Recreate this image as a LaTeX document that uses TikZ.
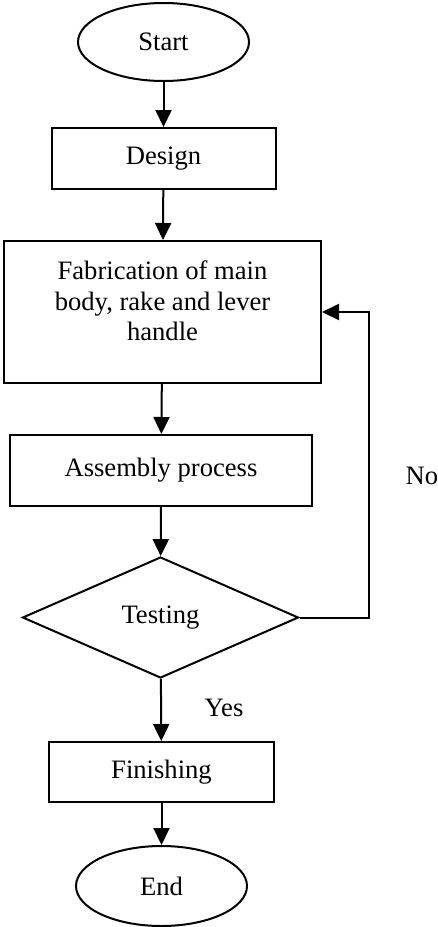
\documentclass[tikz,border=0pt]{standalone}
\usepackage{fontspec}
\setmainfont{Liberation Serif}
\usetikzlibrary{shapes.geometric,arrows.meta}

\begin{document}
\begin{tikzpicture}[x=0.5pt,y=-0.5pt,line width=1pt,
    font=\fontsize{13.3}{15.3}\selectfont,
    every node/.style={inner sep=0pt},
    block/.style={draw,rectangle},
    term/.style={draw,ellipse,minimum width=85.5pt,minimum height=39pt},
    decide/.style={draw,diamond,minimum width=138pt,minimum height=60.5pt},
    >={Triangle[width=8pt,length=8.5pt]}]
  \useasboundingbox (0,0) rectangle (438,927);
  \node[term] (start) at (163.5,42) {Start};
  \node[block,minimum width=112pt,minimum height=30.5pt] (design) at (163.5,158.5) {Design};
  \node[block,minimum width=158.5pt,minimum height=71pt] (fab) at (162.5,312) {};
  \node[align=center] (fabtext) at (162.5,301) {Fabrication of main\\body, rake and lever\\handle};
  \node[block,minimum width=151pt,minimum height=35.5pt] (asm) at (161,470.5) {Assembly process};
  \node[decide] (test) at (160.5,617.5) {Testing};
  \node[block,minimum width=112.5pt,minimum height=30pt] (fin) at (161.5,772) {Finishing};
  \node[term,minimum height=40pt] (end) at (161.5,886) {End};
  \coordinate (back) at (369,617.5);
  \node (no) at (422,476) {No};
  \node (yes) at (224,708) {Yes};
  \begin{scope}[->]
    \draw (start) -- (design);
    \draw (design) -- (fab);
    \draw (fab) -- (asm);
    \draw (asm) -- (test);
    \draw (test) -- (fin);
    \draw (fin) -- (end);
    \draw (test.east) -- (back) |- (fab.east);
  \end{scope}
\end{tikzpicture}
\end{document}
